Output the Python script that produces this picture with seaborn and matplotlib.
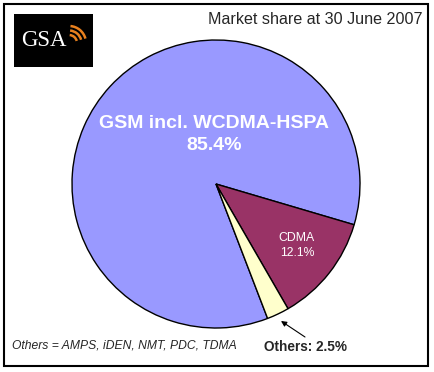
import matplotlib.pyplot as plt
import seaborn as sns
from matplotlib.patches import Arc, Rectangle

# Données (parts de marché au 30 juin 2007)
technologies = ["GSM incl. WCDMA-HSPA", "CDMA", "Others"]
parts = [85.4, 12.1, 2.5]
couleurs = ["#9999FF", "#993366", "#FFFFCC"]

titre = "Market share at 30 June 2007"
note = "Others = AMPS, iDEN, NMT, PDC, TDMA"

sns.set_style("white")
plt.rcParams["font.family"] = ["Liberation Sans", "DejaVu Sans"]

W, H = 434, 372
fig = plt.figure(figsize=(W / 100, H / 100), dpi=100)
ax = fig.add_axes([0, 0, 1, 1])

# Camembert dans le repère pixel (y vers le haut)
cx, cy, r = 216, H - 184, 144
ax.pie(parts, colors=couleurs, startangle=291, counterclock=False,
       center=(cx, cy), radius=r, frame=True,
       wedgeprops=dict(edgecolor="black", linewidth=1))
ax.set_xlim(0, W)
ax.set_ylim(0, H)
ax.set_aspect("equal")
ax.axis("off")

# Cadre extérieur
ax.add_patch(Rectangle((4, H - 366), 424, 362, fill=False, edgecolor="black", linewidth=1.5))

# Logo GSA
ax.add_patch(Rectangle((14, H - 67), 79, 53, facecolor="black", edgecolor="none"))
ax.text(21, H - 40, "GSA", color="white", fontsize=16.5, family="Liberation Serif",
        va="center", ha="left")
for rayon in (8, 12.5, 17):
    ax.add_patch(Arc((69, H - 43), 2 * rayon, 2 * rayon, theta1=15, theta2=85,
                     color="#E8801E", linewidth=1.8))

ax.text(423, H - 20, titre, fontsize=11.6, ha="right", va="center")

# Étiquettes
ax.text(214, H - 123, technologies[0], color="white", fontsize=14,
        fontweight="bold", ha="center", va="center")
ax.text(214, H - 146, f"{parts[0]}%", color="white", fontsize=14,
        fontweight="bold", ha="center", va="center")
ax.text(296, H - 238, technologies[1], color="white", fontsize=8.8,
        ha="center", va="center")
ax.text(297, H - 253, f"{parts[1]}%", color="white", fontsize=8.8,
        ha="center", va="center")
ax.annotate("", xy=(281, H - 321), xytext=(305, H - 337),
            arrowprops=dict(arrowstyle="-|>", color="black", lw=0.8, shrinkA=0, shrinkB=0,
                            mutation_scale=8))
ax.text(306, H - 347, f"{technologies[2]}: {parts[2]}%", fontsize=9.8,
        fontweight="bold", ha="center", va="center")

ax.text(12, H - 345, note, fontsize=8.7, style="italic", ha="left", va="center")

fig.savefig("out.png", dpi=100)
